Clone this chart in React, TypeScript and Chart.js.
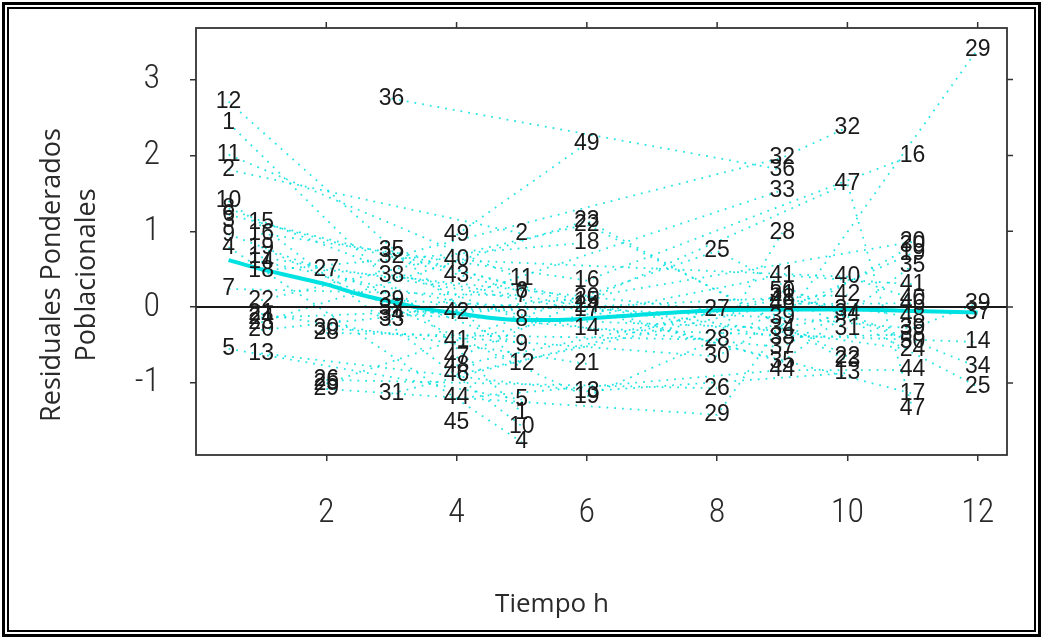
import React, { useEffect, useRef } from 'react';
import { Chart, registerables } from 'chart.js';

Chart.register(...registerables);

// Sampling times (h)
const times = [0.5, 1, 2, 3, 4, 5, 6, 8, 9, 10, 11, 12];

// Subject ids and weighted population residuals at each time
const ids_t0_5 = [12, 1, 11, 2, 10, 8, 6, 3, 9, 4, 7, 5];
const res_t0_5 = [2.71, 2.43, 2.01, 1.81, 1.4, 1.3, 1.22, 1.14, 0.96, 0.79, 0.24, -0.55];

const ids_t1 = [15, 16, 19, 17, 14, 18, 22, 21, 24, 23, 20, 13];
const res_t1 = [1.11, 0.97, 0.79, 0.66, 0.6, 0.48, 0.09, -0.09, -0.14, -0.2, -0.3, -0.61];

const ids_t2 = [27, 30, 28, 26, 25, 29];
const res_t2 = [0.49, -0.28, -0.34, -0.96, -1.01, -1.08];

const ids_t3 = [36, 35, 32, 38, 39, 37, 34, 33, 31];
const res_t3 = [2.75, 0.74, 0.66, 0.42, 0.09, -0.02, -0.1, -0.16, -1.14];

const ids_t4 = [49, 40, 43, 42, 41, 47, 48, 46, 44, 45];
const res_t4 = [0.95, 0.62, 0.42, -0.07, -0.44, -0.67, -0.77, -0.89, -1.2, -1.52];

const ids_t5 = [2, 11, 6, 7, 8, 9, 12, 5, 1, 10, 4];
const res_t5 = [0.97, 0.37, 0.21, 0.15, -0.17, -0.5, -0.75, -1.22, -1.39, -1.57, -1.78];

const ids_t6 = [49, 23, 22, 18, 16, 20, 15, 24, 17, 14, 21, 13, 19];
const res_t6 = [2.16, 1.14, 1.09, 0.85, 0.35, 0.13, 0.07, 0.02, -0.04, -0.28, -0.75, -1.11, -1.18];

const ids_t8 = [25, 27, 28, 30, 26, 29];
const res_t8 = [0.74, -0.04, -0.43, -0.65, -1.07, -1.42];

const ids_t9 = [32, 36, 33, 28, 41, 50, 31, 48, 46, 39, 34, 38, 37, 35, 44];
const res_t9 = [1.97, 1.81, 1.54, 0.98, 0.42, 0.21, 0.16, 0.11, 0.04, -0.14, -0.28, -0.4, -0.53, -0.72, -0.83];

const ids_t10 = [32, 47, 40, 42, 37, 34, 31, 22, 23, 13];
const res_t10 = [2.37, 1.63, 0.4, 0.16, -0.04, -0.09, -0.28, -0.65, -0.71, -0.87];

const ids_t11 = [16, 20, 30, 19, 35, 41, 40, 46, 48, 39, 38, 50, 24, 44, 17, 47];
const res_t11 = [2.0, 0.86, 0.81, 0.71, 0.55, 0.3, 0.11, 0.05, -0.13, -0.28, -0.36, -0.46, -0.56, -0.83, -1.14, -1.34];

const ids_t12 = [29, 39, 37, 14, 34, 25];
const res_t12 = [3.4, 0.05, -0.07, -0.46, -0.79, -1.05];

// Smoothed trend of the residuals
const smoothTime = [0.5, 1, 1.5, 2, 2.5, 3, 3.5, 4, 4.5, 5, 5.5, 6, 7, 8, 9, 10, 11, 12];
const smoothResid = [0.62, 0.5, 0.4, 0.3, 0.17, 0.07, -0.02, -0.08, -0.14, -0.17, -0.17, -0.15, -0.09, -0.04, -0.03, -0.03, -0.05, -0.07];

// Axis ticks and titles
const xTicks = [2, 4, 6, 8, 10, 12];
const yTicks = [-1, 0, 1, 2, 3];
const xTitle = 'Tiempo h';
const yTitle = ['Residuales Ponderados', 'Poblacionales'];

const columnIds = [ids_t0_5, ids_t1, ids_t2, ids_t3, ids_t4, ids_t5, ids_t6, ids_t8, ids_t9, ids_t10, ids_t11, ids_t12];
const columnRes = [res_t0_5, res_t1, res_t2, res_t3, res_t4, res_t5, res_t6, res_t8, res_t9, res_t10, res_t11, res_t12];

const CYAN = '#00e1e1';
const CYAN_DOT = 'rgba(0, 225, 225, 0.85)';
const TICK_FONT = "'Roboto Condensed', 'DejaVu Sans Condensed', 'Liberation Sans', Arial, sans-serif";
const LABEL_FONT = "'Liberation Sans', Arial, sans-serif";
const TITLE_FONT = "'Open Sans', 'Noto Sans', sans-serif";

export default function App() {
  const canvasRef = useRef<HTMLCanvasElement | null>(null);

  useEffect(() => {
    const canvas = canvasRef.current;
    if (!canvas) return;

    const obs: { x: number; y: number; id: number }[] = [];
    const subjects = new Map<number, { x: number; y: number }[]>();
    times.forEach((t, ci) => {
      columnIds[ci].forEach((id, k) => {
        const y = columnRes[ci][k];
        obs.push({ x: t, y, id });
        if (!subjects.has(id)) subjects.set(id, []);
        subjects.get(id)!.push({ x: t, y });
      });
    });

    const subjectSets: any[] = [];
    Array.from(subjects.keys())
      .sort((a, b) => a - b)
      .forEach((id) => {
        const pts = subjects.get(id)!.slice().sort((a, b) => a.x - b.x);
        if (pts.length < 2) return;
        subjectSets.push({
          label: 'Sujeto ' + id,
          data: pts,
          borderColor: CYAN_DOT,
          borderWidth: 1.8,
          borderDash: [1.8, 6],
          pointRadius: 0,
          fill: false,
          tension: 0,
          order: 3,
        });
      });

    const labelSet = {
      label: 'ids',
      data: obs,
      showLine: false,
      pointRadius: 0,
      borderColor: 'transparent',
      order: 0,
    };

    const smoothSet = {
      label: 'Tendencia',
      data: smoothTime.map((t, i) => ({ x: t, y: smoothResid[i] })),
      borderColor: CYAN,
      borderWidth: 4,
      pointRadius: 0,
      fill: false,
      cubicInterpolationMode: 'monotone',
      order: 1,
    };

    const datasets = [labelSet, smoothSet, ...subjectSets];

    const decor = {
      id: 'decor',
      afterDatasetsDraw(chart: any) {
        const { ctx, chartArea, scales } = chart;
        const { left, right, top, bottom } = chartArea;
        ctx.save();
        // zero reference line
        const y0 = scales.y.getPixelForValue(0);
        ctx.strokeStyle = '#1a1a1a';
        ctx.lineWidth = 2;
        ctx.beginPath();
        ctx.moveTo(left, y0);
        ctx.lineTo(right, y0);
        ctx.stroke();

        // id labels
        const meta = chart.getDatasetMeta(0);
        ctx.fillStyle = '#1a1a1a';
        ctx.font = `23px ${LABEL_FONT}`;
        ctx.textAlign = 'center';
        ctx.textBaseline = 'middle';
        meta.data.forEach((el: any, i: number) => {
          ctx.fillText(String(obs[i].id), el.x, el.y);
        });

        // frame
        ctx.strokeStyle = '#333';
        ctx.lineWidth = 1.8;
        ctx.strokeRect(left, top, right - left, bottom - top);

        // tick marks on top and right
        ctx.lineWidth = 1.5;
        ctx.beginPath();
        xTicks.forEach((v) => {
          const px = scales.x.getPixelForValue(v);
          ctx.moveTo(px, top);
          ctx.lineTo(px, top - 6);
        });
        yTicks.forEach((v) => {
          const py = scales.y.getPixelForValue(v);
          ctx.moveTo(right, py);
          ctx.lineTo(right + 6, py);
        });
        ctx.stroke();

        // axis titles
        ctx.fillStyle = '#2a2a2a';
        ctx.font = `26px ${TITLE_FONT}`;
        ctx.textAlign = 'center';
        ctx.textBaseline = 'middle';
        ctx.fillText(xTitle, 552, bottom + 150);
        ctx.font = `27px ${TITLE_FONT}`;
        const cy = 275;
        yTitle.forEach((line, i) => {
          ctx.save();
          ctx.translate(52 + i * 35, cy);
          ctx.rotate(-Math.PI / 2);
          ctx.fillText(line, 0, 0);
          ctx.restore();
        });
        ctx.restore();
      },
    };

    const chart = new Chart(canvas, {
      type: 'line',
      data: { datasets } as any,
      options: {
        animation: false,
        responsive: false,
        devicePixelRatio: 1,
        layout: { padding: { left: 0, top: 28, right: 37, bottom: 0 } },
        plugins: { legend: { display: false }, tooltip: { enabled: false } },
        scales: {
          x: {
            type: 'linear',
            min: 0,
            max: 12.45,
            afterBuildTicks: (s: any) => {
              s.ticks = xTicks.map((v) => ({ value: v }));
            },
            afterFit: (s: any) => {
              s.height = 184;
              s.paddingLeft = 0;
              s.paddingRight = 0;
            },
            ticks: {
              autoSkip: false,
              maxRotation: 0,
              padding: 32,
              color: '#2a2a2a',
              font: { family: TICK_FONT, size: 34, weight: '300' },
            },
            grid: { drawOnChartArea: false, drawTicks: true, tickLength: 6, color: '#333', lineWidth: 1.5 },
            border: { display: false },
          },
          y: {
            type: 'linear',
            min: -1.95,
            max: 3.68,
            afterBuildTicks: (s: any) => {
              s.ticks = yTicks.map((v) => ({ value: v }));
            },
            afterFit: (s: any) => {
              s.width = 196;
              s.paddingTop = 0;
              s.paddingBottom = 0;
            },
            ticks: {
              autoSkip: false,
              padding: 30,
              color: '#2a2a2a',
              font: { family: TICK_FONT, size: 34, weight: '300' },
            },
            grid: { drawOnChartArea: false, drawTicks: true, tickLength: 6, color: '#333', lineWidth: 1.5 },
            border: { display: false },
          },
        },
      } as any,
      plugins: [decor],
    });

    return () => chart.destroy();
  }, []);

  return (
    <div style={{ position: 'fixed', left: 0, top: 0, width: 1044, height: 639, background: '#fff', overflow: 'hidden' }}>
      <canvas ref={canvasRef} width={1044} height={639} style={{ position: 'absolute', left: 0, top: 0 }} />
      <div
        style={{
          position: 'absolute', left: 2, top: 2, width: 1039, height: 635,
          boxSizing: 'border-box', border: '3px solid #000', pointerEvents: 'none',
        }}
      />
      <div
        style={{
          position: 'absolute', left: 7, top: 7, width: 1029, height: 625,
          boxSizing: 'border-box', border: '2px solid #000', pointerEvents: 'none',
        }}
      />
    </div>
  );
}
